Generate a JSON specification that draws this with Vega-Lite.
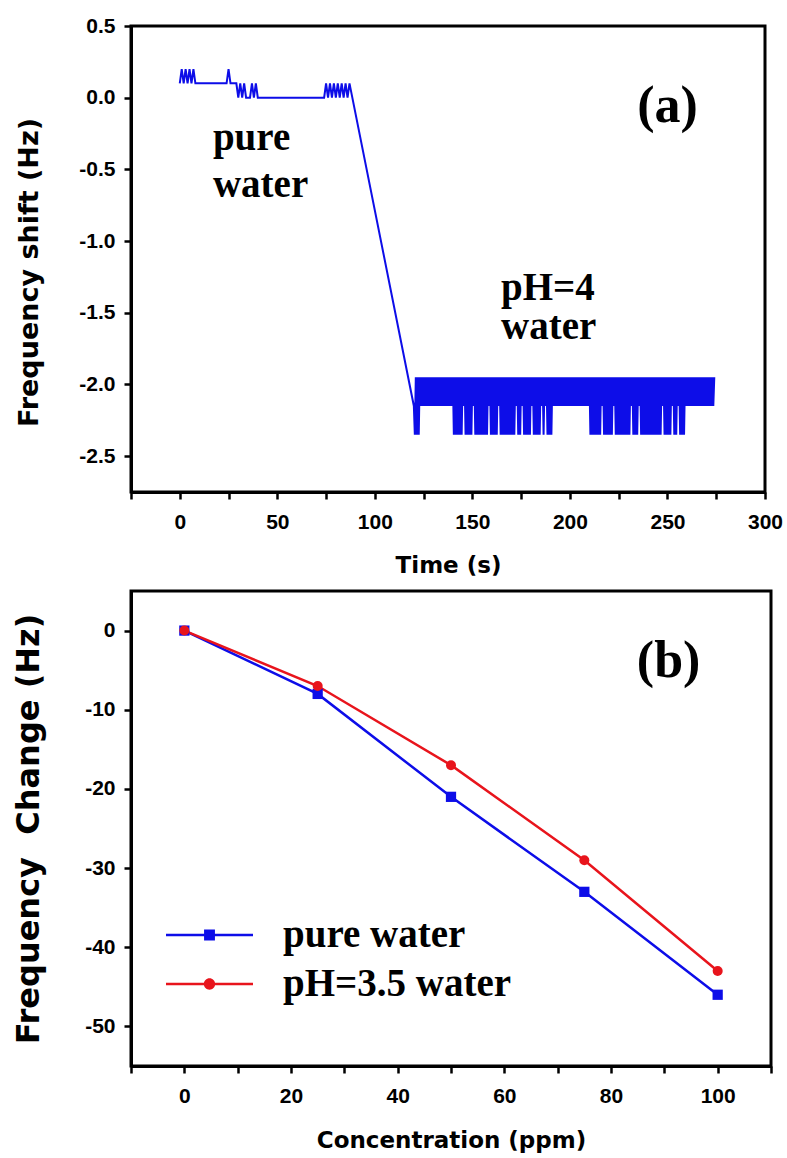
{
  "$schema": "https://vega.github.io/schema/vega-lite/v6.json",
  "padding": {"left": 11, "top": 13, "right": 5, "bottom": 0},
  "background": "white",
  "spacing": 10,
  "config": {
    "locale": {"number": {"decimal": ".", "thousands": ",", "grouping": [3], "currency": ["$", ""], "minus": "-"}},
    "view": {"stroke": "black", "strokeWidth": 3},
    "axis": {
      "grid": false,
      "domainColor": "black",
      "domainWidth": 3,
      "tickColor": "black",
      "tickWidth": 2.5,
      "tickSize": 7,
      "labelFont": "Liberation Sans",
      "labelFontWeight": "bold",
      "labelFontSize": 21,
      "labelColor": "black",
      "labelOverlap": false,
      "labelFlush": false,
      "labelBound": false,
      "titleFont": "DejaVu Sans",
      "titleFontWeight": "bold",
      "titleColor": "black"
    },
    "axisX": {"labelPadding": 12},
    "axisY": {"labelPadding": 9}
  },
  "vconcat": [
    {
      "width": 634,
      "height": 466,
      "layer": [
        {
          "data": {"values": [
            {"t":0,"f":0.1},{"t":1,"f":0.2},{"t":2,"f":0.1},{"t":3,"f":0.2},{"t":4,"f":0.1},{"t":5,"f":0.2},{"t":6,"f":0.1},{"t":7,"f":0.2},{"t":8,"f":0.1},
            {"t":24,"f":0.1},{"t":25,"f":0.2},{"t":26,"f":0.1},{"t":29,"f":0.1},{"t":30,"f":0},{"t":31,"f":0.1},{"t":32,"f":0},{"t":33,"f":0.1},{"t":34,"f":0},
            {"t":36,"f":0},{"t":37,"f":0.1},{"t":38,"f":0},{"t":39,"f":0.1},{"t":40,"f":0},
            {"t":74,"f":0},{"t":75,"f":0.1},{"t":76,"f":0},{"t":77,"f":0.1},{"t":78,"f":0},{"t":79,"f":0.1},{"t":80,"f":0},{"t":81,"f":0.1},{"t":82,"f":0},
            {"t":83,"f":0.1},{"t":84,"f":0},{"t":85,"f":0.1},{"t":86,"f":0},{"t":87,"f":0.1},
            {"t":120,"f":-2.15},{"t":120.5,"f":-2.35},
            {"t":121,"f":-1.95},{"t":121.5,"f":-2.35},{"t":122,"f":-1.95},{"t":122.5,"f":-2.35},{"t":123,"f":-1.95},{"t":123.5,"f":-2.15},
            {"t":124,"f":-1.95},{"t":124.5,"f":-2.15},{"t":125,"f":-1.95},{"t":125.5,"f":-2.15},{"t":126,"f":-1.95},{"t":126.5,"f":-2.15},
            {"t":127,"f":-1.95},{"t":127.5,"f":-2.15},{"t":128,"f":-1.95},{"t":128.5,"f":-2.15},{"t":129,"f":-1.95},{"t":129.5,"f":-2.15},
            {"t":130,"f":-1.95},{"t":130.5,"f":-2.15},{"t":131,"f":-1.95},{"t":131.5,"f":-2.15},{"t":132,"f":-1.95},{"t":132.5,"f":-2.15},
            {"t":133,"f":-1.95},{"t":133.5,"f":-2.15},{"t":134,"f":-1.95},{"t":134.5,"f":-2.15},{"t":135,"f":-1.95},{"t":135.5,"f":-2.15},
            {"t":136,"f":-1.95},{"t":136.5,"f":-2.15},{"t":137,"f":-1.95},{"t":137.5,"f":-2.15},{"t":138,"f":-1.95},{"t":138.5,"f":-2.15},
            {"t":139,"f":-1.95},{"t":139.5,"f":-2.15},{"t":140,"f":-1.95},{"t":140.5,"f":-2.35},{"t":141,"f":-1.95},{"t":141.5,"f":-2.35},
            {"t":142,"f":-1.95},{"t":142.5,"f":-2.35},{"t":143,"f":-1.95},{"t":143.5,"f":-2.35},{"t":144,"f":-1.95},{"t":144.5,"f":-2.35},
            {"t":145,"f":-1.95},{"t":145.5,"f":-2.15},{"t":146,"f":-1.95},{"t":146.5,"f":-2.35},{"t":147,"f":-1.95},{"t":147.5,"f":-2.35},
            {"t":148,"f":-1.95},{"t":148.5,"f":-2.35},{"t":149,"f":-1.95},{"t":149.5,"f":-2.35},{"t":150,"f":-1.95},{"t":150.5,"f":-2.15},
            {"t":151,"f":-1.95},{"t":151.5,"f":-2.35},{"t":152,"f":-1.95},{"t":152.5,"f":-2.35},{"t":153,"f":-1.95},{"t":153.5,"f":-2.35},
            {"t":154,"f":-1.95},{"t":154.5,"f":-2.35},{"t":155,"f":-1.95},{"t":155.5,"f":-2.35},{"t":156,"f":-1.95},{"t":156.5,"f":-2.35},
            {"t":157,"f":-1.95},{"t":157.5,"f":-2.35},{"t":158,"f":-1.95},{"t":158.5,"f":-2.15},{"t":159,"f":-1.95},{"t":159.5,"f":-2.35},
            {"t":160,"f":-1.95},{"t":160.5,"f":-2.35},{"t":161,"f":-1.95},{"t":161.5,"f":-2.35},{"t":162,"f":-1.95},{"t":162.5,"f":-2.35},
            {"t":163,"f":-1.95},{"t":163.5,"f":-2.15},{"t":164,"f":-1.95},{"t":164.5,"f":-2.35},{"t":165,"f":-1.95},{"t":165.5,"f":-2.35},
            {"t":166,"f":-1.95},{"t":166.5,"f":-2.35},{"t":167,"f":-1.95},{"t":167.5,"f":-2.35},{"t":168,"f":-1.95},{"t":168.5,"f":-2.35},
            {"t":169,"f":-1.95},{"t":169.5,"f":-2.35},{"t":170,"f":-1.95},{"t":170.5,"f":-2.35},{"t":171,"f":-1.95},{"t":171.5,"f":-2.35},
            {"t":172,"f":-1.95},{"t":172.5,"f":-2.15},{"t":173,"f":-1.95},{"t":173.5,"f":-2.35},{"t":174,"f":-1.95},{"t":174.5,"f":-2.35},
            {"t":175,"f":-1.95},{"t":175.5,"f":-2.15},{"t":176,"f":-1.95},{"t":176.5,"f":-2.35},{"t":177,"f":-1.95},{"t":177.5,"f":-2.35},
            {"t":178,"f":-1.95},{"t":178.5,"f":-2.35},{"t":179,"f":-1.95},{"t":179.5,"f":-2.35},{"t":180,"f":-1.95},{"t":180.5,"f":-2.15},
            {"t":181,"f":-1.95},{"t":181.5,"f":-2.35},{"t":182,"f":-1.95},{"t":182.5,"f":-2.35},{"t":183,"f":-1.95},{"t":183.5,"f":-2.35},
            {"t":184,"f":-1.95},{"t":184.5,"f":-2.35},{"t":185,"f":-1.95},{"t":185.5,"f":-2.15},{"t":186,"f":-1.95},{"t":186.5,"f":-2.35},
            {"t":187,"f":-1.95},{"t":187.5,"f":-2.15},{"t":188,"f":-1.95},{"t":188.5,"f":-2.35},{"t":189,"f":-1.95},{"t":189.5,"f":-2.35},
            {"t":190,"f":-1.95},{"t":190.5,"f":-2.35},{"t":191,"f":-1.95},{"t":191.5,"f":-2.15},{"t":192,"f":-1.95},{"t":192.5,"f":-2.15},
            {"t":193,"f":-1.95},{"t":193.5,"f":-2.15},{"t":194,"f":-1.95},{"t":194.5,"f":-2.15},{"t":195,"f":-1.95},{"t":195.5,"f":-2.15},
            {"t":196,"f":-1.95},{"t":196.5,"f":-2.15},{"t":197,"f":-1.95},{"t":197.5,"f":-2.15},{"t":198,"f":-1.95},{"t":198.5,"f":-2.15},
            {"t":199,"f":-1.95},{"t":199.5,"f":-2.15},{"t":200,"f":-1.95},{"t":200.5,"f":-2.15},{"t":201,"f":-1.95},{"t":201.5,"f":-2.15},
            {"t":202,"f":-1.95},{"t":202.5,"f":-2.15},{"t":203,"f":-1.95},{"t":203.5,"f":-2.15},{"t":204,"f":-1.95},{"t":204.5,"f":-2.15},
            {"t":205,"f":-1.95},{"t":205.5,"f":-2.15},{"t":206,"f":-1.95},{"t":206.5,"f":-2.15},{"t":207,"f":-1.95},{"t":207.5,"f":-2.15},
            {"t":208,"f":-1.95},{"t":208.5,"f":-2.15},{"t":209,"f":-1.95},{"t":209.5,"f":-2.15},{"t":210,"f":-1.95},{"t":210.5,"f":-2.35},
            {"t":211,"f":-1.95},{"t":211.5,"f":-2.35},{"t":212,"f":-1.95},{"t":212.5,"f":-2.35},{"t":213,"f":-1.95},{"t":213.5,"f":-2.35},
            {"t":214,"f":-1.95},{"t":214.5,"f":-2.35},{"t":215,"f":-1.95},{"t":215.5,"f":-2.35},{"t":216,"f":-1.95},{"t":216.5,"f":-2.15},
            {"t":217,"f":-1.95},{"t":217.5,"f":-2.35},{"t":218,"f":-1.95},{"t":218.5,"f":-2.35},{"t":219,"f":-1.95},{"t":219.5,"f":-2.35},
            {"t":220,"f":-1.95},{"t":220.5,"f":-2.35},{"t":221,"f":-1.95},{"t":221.5,"f":-2.35},{"t":222,"f":-1.95},{"t":222.5,"f":-2.15},
            {"t":223,"f":-1.95},{"t":223.5,"f":-2.35},{"t":224,"f":-1.95},{"t":224.5,"f":-2.35},{"t":225,"f":-1.95},{"t":225.5,"f":-2.35},
            {"t":226,"f":-1.95},{"t":226.5,"f":-2.35},{"t":227,"f":-1.95},{"t":227.5,"f":-2.35},{"t":228,"f":-1.95},{"t":228.5,"f":-2.35},
            {"t":229,"f":-1.95},{"t":229.5,"f":-2.35},{"t":230,"f":-1.95},{"t":230.5,"f":-2.35},{"t":231,"f":-1.95},{"t":231.5,"f":-2.15},
            {"t":232,"f":-1.95},{"t":232.5,"f":-2.35},{"t":233,"f":-1.95},{"t":233.5,"f":-2.35},{"t":234,"f":-1.95},{"t":234.5,"f":-2.35},
            {"t":235,"f":-1.95},{"t":235.5,"f":-2.15},{"t":236,"f":-1.95},{"t":236.5,"f":-2.35},{"t":237,"f":-1.95},{"t":237.5,"f":-2.35},
            {"t":238,"f":-1.95},{"t":238.5,"f":-2.35},{"t":239,"f":-1.95},{"t":239.5,"f":-2.35},{"t":240,"f":-1.95},{"t":240.5,"f":-2.35},
            {"t":241,"f":-1.95},{"t":241.5,"f":-2.35},{"t":242,"f":-1.95},{"t":242.5,"f":-2.35},{"t":243,"f":-1.95},{"t":243.5,"f":-2.35},
            {"t":244,"f":-1.95},{"t":244.5,"f":-2.35},{"t":245,"f":-1.95},{"t":245.5,"f":-2.35},{"t":246,"f":-1.95},{"t":246.5,"f":-2.35},
            {"t":247,"f":-1.95},{"t":247.5,"f":-2.15},{"t":248,"f":-1.95},{"t":248.5,"f":-2.35},{"t":249,"f":-1.95},{"t":249.5,"f":-2.35},
            {"t":250,"f":-1.95},{"t":250.5,"f":-2.35},{"t":251,"f":-1.95},{"t":251.5,"f":-2.35},{"t":252,"f":-1.95},{"t":252.5,"f":-2.15},
            {"t":253,"f":-1.95},{"t":253.5,"f":-2.35},{"t":254,"f":-1.95},{"t":254.5,"f":-2.35},{"t":255,"f":-1.95},{"t":255.5,"f":-2.15},
            {"t":256,"f":-1.95},{"t":256.5,"f":-2.35},{"t":257,"f":-1.95},{"t":257.5,"f":-2.35},{"t":258,"f":-1.95},{"t":258.5,"f":-2.35},
            {"t":259,"f":-1.95},{"t":259.5,"f":-2.15},{"t":260,"f":-1.95},{"t":260.5,"f":-2.15},{"t":261,"f":-1.95},{"t":261.5,"f":-2.15},
            {"t":262,"f":-1.95},{"t":262.5,"f":-2.15},{"t":263,"f":-1.95},{"t":263.5,"f":-2.15},{"t":264,"f":-1.95},{"t":264.5,"f":-2.15},
            {"t":265,"f":-1.95},{"t":265.5,"f":-2.15},{"t":266,"f":-1.95},{"t":266.5,"f":-2.15},{"t":267,"f":-1.95},{"t":267.5,"f":-2.15},
            {"t":268,"f":-1.95},{"t":268.5,"f":-2.15},{"t":269,"f":-1.95},{"t":269.5,"f":-2.15},{"t":270,"f":-1.95},{"t":270.5,"f":-2.15},
            {"t":271,"f":-1.95},{"t":271.5,"f":-2.15},{"t":272,"f":-1.95},{"t":272.5,"f":-2.15},{"t":273,"f":-1.95},{"t":273.5,"f":-2.15},
            {"t":274,"f":-1.95}
          ]},
          "mark": {"type": "line", "color": "#0d0de8", "strokeWidth": 2, "clip": true},
          "encoding": {
            "x": {
              "field": "t", "type": "quantitative",
              "scale": {"domain": [-25, 300], "nice": false, "zero": false},
              "axis": {
                "title": "Time (s)",
                "titleFontSize": 23,
                "titleY": 73,
                "titleBaseline": "middle",
                "values": [-25, 0, 25, 50, 75, 100, 125, 150, 175, 200, 225, 250, 275, 300],
                "labelExpr": "datum.value % 50 == 0 ? datum.label : ''"
              }
            },
            "y": {
              "field": "f", "type": "quantitative",
              "scale": {"domain": [-2.75, 0.5], "nice": false, "zero": false},
              "axis": {
                "title": "Frequency shift (Hz)",
                "titleFontSize": 27,
                "titlePadding": 35,
                "titleY": 246,
                "format": ".1f",
                "values": [0.5, 0, -0.5, -1, -1.5, -2, -2.5]
              }
            }
          }
        },
        {
          "data": {"values": [{}]},
          "mark": {"type": "text", "font": "Liberation Serif", "fontWeight": "bold", "fontSize": 52, "align": "center", "baseline": "alphabetic", "color": "black"},
          "encoding": {
            "x": {"datum": 250, "type": "quantitative"},
            "y": {"datum": -0.17, "type": "quantitative"},
            "text": {"value": "(a)"}
          }
        },
        {
          "data": {"values": [{}]},
          "mark": {"type": "text", "font": "Liberation Serif", "fontWeight": "bold", "fontSize": 39, "lineHeight": 47, "align": "left", "baseline": "alphabetic", "color": "black"},
          "encoding": {
            "x": {"datum": 17, "type": "quantitative"},
            "y": {"datum": -0.365, "type": "quantitative"},
            "text": {"value": ["pure", "water"]}
          }
        },
        {
          "data": {"values": [{}]},
          "mark": {"type": "text", "font": "Liberation Serif", "fontWeight": "bold", "fontSize": 39, "lineHeight": 39, "align": "left", "baseline": "alphabetic", "color": "black"},
          "encoding": {
            "x": {"datum": 164.7, "type": "quantitative"},
            "y": {"datum": -1.411, "type": "quantitative"},
            "text": {"value": ["pH=4", "water"]}
          }
        }
      ]
    },
    {
      "width": 640,
      "height": 475,
      "data": {"values": [
        {"c": 0, "v": 0, "series": "pure water"},
        {"c": 25, "v": -8, "series": "pure water"},
        {"c": 50, "v": -21, "series": "pure water"},
        {"c": 75, "v": -33, "series": "pure water"},
        {"c": 100, "v": -46, "series": "pure water"},
        {"c": 0, "v": 0, "series": "pH=3.5 water"},
        {"c": 25, "v": -7, "series": "pH=3.5 water"},
        {"c": 50, "v": -17, "series": "pH=3.5 water"},
        {"c": 75, "v": -29, "series": "pH=3.5 water"},
        {"c": 100, "v": -43, "series": "pH=3.5 water"}
      ]},
      "layer": [
        {
          "mark": {"type": "line", "strokeWidth": 2.5},
          "encoding": {
            "x": {
              "field": "c", "type": "quantitative",
              "scale": {"domain": [-10, 110], "nice": false, "zero": false},
              "axis": {
                "title": "Concentration (ppm)",
                "titleFontSize": 23,
                "titleY": 74,
                "titleBaseline": "middle",
                "values": [-10, 0, 10, 20, 30, 40, 50, 60, 70, 80, 90, 100, 110],
                "labelExpr": "datum.value % 20 == 0 ? datum.label : ''"
              }
            },
            "y": {
              "field": "v", "type": "quantitative",
              "scale": {"domain": [-55, 5], "nice": false, "zero": false},
              "axis": {
                "title": "Frequency\u00a0 Change (Hz)",
                "titleFontSize": 32,
                "titlePadding": 39,
                "values": [0, -10, -20, -30, -40, -50]
              }
            },
            "color": {
              "field": "series", "type": "nominal",
              "scale": {"domain": ["pure water", "pH=3.5 water"], "range": ["#0d0de8", "#e8141c"]},
              "legend": {
                "orient": "none", "legendX": 59, "legendY": 889.5, "title": null, "padding": 0,
                "symbolSize": 473, "symbolStrokeWidth": 0, "symbolOpacity": 1, "rowPadding": 9, "labelOffset": 54,
                "labelFont": "Liberation Serif", "labelFontWeight": "bold", "labelFontSize": 39, "labelColor": "black", "labelLimit": 500
              }
            },
            "detail": {"field": "series"}
          }
        },
        {
          "transform": [{"filter": "datum.series === 'pure water'"}],
          "mark": {"type": "point", "shape": "square", "filled": true, "opacity": 1, "size": 105},
          "encoding": {
            "x": {"field": "c", "type": "quantitative"},
            "y": {"field": "v", "type": "quantitative"},
            "color": {
              "field": "series", "type": "nominal",
              "legend": {
                "orient": "none", "legendX": 59, "legendY": 889.5, "title": null, "padding": 0,
                "symbolSize": 473, "symbolStrokeWidth": 0, "symbolOpacity": 1, "rowPadding": 9, "labelOffset": 54,
                "labelFont": "Liberation Serif", "labelFontWeight": "bold", "labelFontSize": 39, "labelColor": "black", "labelLimit": 500
              }
            }
          }
        },
        {
          "transform": [{"filter": "datum.series === 'pH=3.5 water'"}],
          "mark": {"type": "point", "shape": "circle", "filled": true, "opacity": 1, "size": 100},
          "encoding": {
            "x": {"field": "c", "type": "quantitative"},
            "y": {"field": "v", "type": "quantitative"},
            "color": {
              "field": "series", "type": "nominal",
              "legend": {
                "orient": "none", "legendX": 59, "legendY": 889.5, "title": null, "padding": 0,
                "symbolSize": 473, "symbolStrokeWidth": 0, "symbolOpacity": 1, "rowPadding": 9, "labelOffset": 54,
                "labelFont": "Liberation Serif", "labelFontWeight": "bold", "labelFontSize": 39, "labelColor": "black", "labelLimit": 500
              }
            }
          }
        },
        {
          "mark": {"type": "point", "filled": true, "opacity": 0},
          "encoding": {
            "x": {"field": "c", "type": "quantitative"},
            "y": {"field": "v", "type": "quantitative"},
            "color": {
              "field": "series", "type": "nominal",
              "legend": {
                "orient": "none", "legendX": 59, "legendY": 889.5, "title": null, "padding": 0,
                "symbolSize": 473, "symbolStrokeWidth": 0, "symbolOpacity": 1, "rowPadding": 9, "labelOffset": 54,
                "labelFont": "Liberation Serif", "labelFontWeight": "bold", "labelFontSize": 39, "labelColor": "black", "labelLimit": 500
              }
            },
            "shape": {
              "field": "series", "type": "nominal",
              "scale": {
                "domain": ["pure water", "pH=3.5 water"],
                "range": ["M-4,-0.11H4V0.11H-4ZM-0.5,-0.5H0.5V0.5H-0.5Z", "M-4,-0.11H4V0.11H-4ZM0.52,0A0.52,0.52,0,1,1,-0.52,0A0.52,0.52,0,1,1,0.52,0Z"]
              },
              "legend": {
                "orient": "none", "legendX": 59, "legendY": 889.5, "title": null, "padding": 0,
                "symbolSize": 473, "symbolStrokeWidth": 0, "symbolOpacity": 1, "rowPadding": 9, "labelOffset": 54,
                "labelFont": "Liberation Serif", "labelFontWeight": "bold", "labelFontSize": 39, "labelColor": "black", "labelLimit": 500
              }
            }
          }
        },
        {
          "data": {"values": [{}]},
          "mark": {"type": "text", "font": "Liberation Serif", "fontWeight": "bold", "fontSize": 52, "align": "center", "baseline": "alphabetic", "color": "black"},
          "encoding": {
            "x": {"datum": 90.8, "type": "quantitative"},
            "y": {"datum": -5.9, "type": "quantitative"},
            "text": {"value": "(b)"}
          }
        }
      ]
    }
  ]
}
